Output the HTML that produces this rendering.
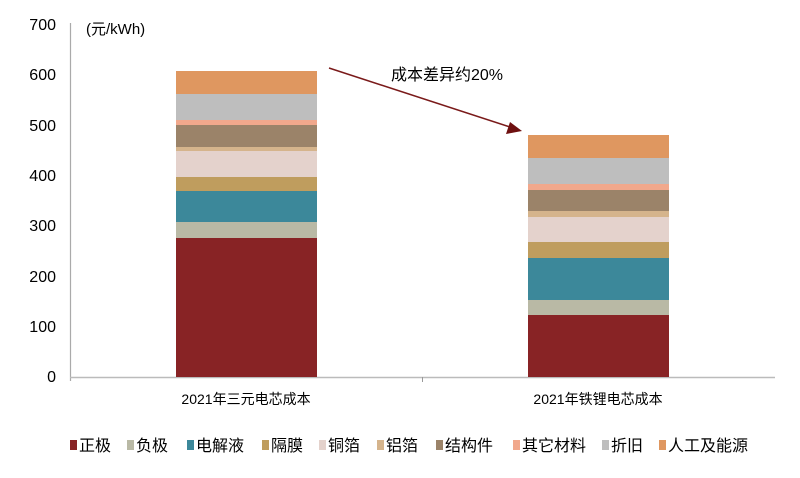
<!DOCTYPE html>
<html><head><meta charset="utf-8"><style>
body{margin:0;background:#fff;}
svg text{font-family:"Liberation Sans","Noto Sans CJK SC",sans-serif;}
</style></head><body>
<svg width="800" height="473" viewBox="0 0 800 473" xmlns="http://www.w3.org/2000/svg">
<g font-size="16" fill="#000" text-anchor="end">
<text x="56" y="30">700</text><text x="56" y="80">600</text><text x="56" y="131">500</text><text x="56" y="181">400</text><text x="56" y="231">300</text><text x="56" y="282">200</text><text x="56" y="332">100</text><text x="56" y="382">0</text>
</g>
<text x="86" y="34" font-size="15">(元/kWh)</text>
<line x1="70.5" y1="23" x2="70.5" y2="381" stroke="#aaa" stroke-width="1.2"/>
<line x1="70" y1="377.5" x2="775" y2="377.5" stroke="#bbb" stroke-width="1.5"/>
<line x1="422.5" y1="377" x2="422.5" y2="382" stroke="#999"/>
<g>
<rect x="176" y="238" width="141" height="139" fill="#882325"/>
<rect x="176" y="222" width="141" height="16" fill="#b9b9a5"/>
<rect x="176" y="191" width="141" height="31" fill="#3c889a"/>
<rect x="176" y="177" width="141" height="14" fill="#bf9d5e"/>
<rect x="176" y="151" width="141" height="26" fill="#e4d2cc"/>
<rect x="176" y="147" width="141" height="4" fill="#d5b48c"/>
<rect x="176" y="125" width="141" height="22" fill="#9b8369"/>
<rect x="176" y="120" width="141" height="5" fill="#f1a88c"/>
<rect x="176" y="94" width="141" height="26" fill="#bebebe"/>
<rect x="176" y="71" width="141" height="23" fill="#df9760"/>
</g>
<g>
<rect x="528" y="315" width="141" height="62" fill="#882325"/>
<rect x="528" y="300" width="141" height="15" fill="#b9b9a5"/>
<rect x="528" y="258" width="141" height="42" fill="#3c889a"/>
<rect x="528" y="242" width="141" height="16" fill="#bf9d5e"/>
<rect x="528" y="217" width="141" height="25" fill="#e4d2cc"/>
<rect x="528" y="211" width="141" height="6" fill="#d5b48c"/>
<rect x="528" y="190" width="141" height="21" fill="#9b8369"/>
<rect x="528" y="184" width="141" height="6" fill="#f1a88c"/>
<rect x="528" y="158" width="141" height="26" fill="#bebebe"/>
<rect x="528" y="135" width="141" height="23" fill="#df9760"/>
</g>
<line x1="329" y1="68" x2="510" y2="127" stroke="#7a1a1a" stroke-width="1.5"/>
<polygon points="522,131 506,134 510,122" fill="#6e1010"/>
<text x="391" y="80" font-size="16">成本差异约20%</text>
<text x="246" y="404" font-size="14" text-anchor="middle">2021年三元电芯成本</text>
<text x="598" y="404" font-size="14" text-anchor="middle">2021年铁锂电芯成本</text>
<g font-size="16">
<rect x="70" y="440" width="7" height="10" fill="#882325"/><text x="79" y="451">正极</text>
<rect x="127" y="440" width="7" height="10" fill="#b9b9a5"/><text x="136" y="451">负极</text>
<rect x="187" y="440" width="7" height="10" fill="#3c889a"/><text x="196" y="451">电解液</text>
<rect x="262" y="440" width="7" height="10" fill="#bf9d5e"/><text x="271" y="451">隔膜</text>
<rect x="319" y="440" width="7" height="10" fill="#e4d2cc"/><text x="328" y="451">铜箔</text>
<rect x="377" y="440" width="7" height="10" fill="#d5b48c"/><text x="386" y="451">铝箔</text>
<rect x="436" y="440" width="7" height="10" fill="#9b8369"/><text x="445" y="451">结构件</text>
<rect x="513" y="440" width="7" height="10" fill="#f1a88c"/><text x="522" y="451">其它材料</text>
<rect x="602" y="440" width="7" height="10" fill="#bebebe"/><text x="611" y="451">折旧</text>
<rect x="659" y="440" width="7" height="10" fill="#df9760"/><text x="668" y="451">人工及能源</text>
</g>
</svg>
</body></html>
